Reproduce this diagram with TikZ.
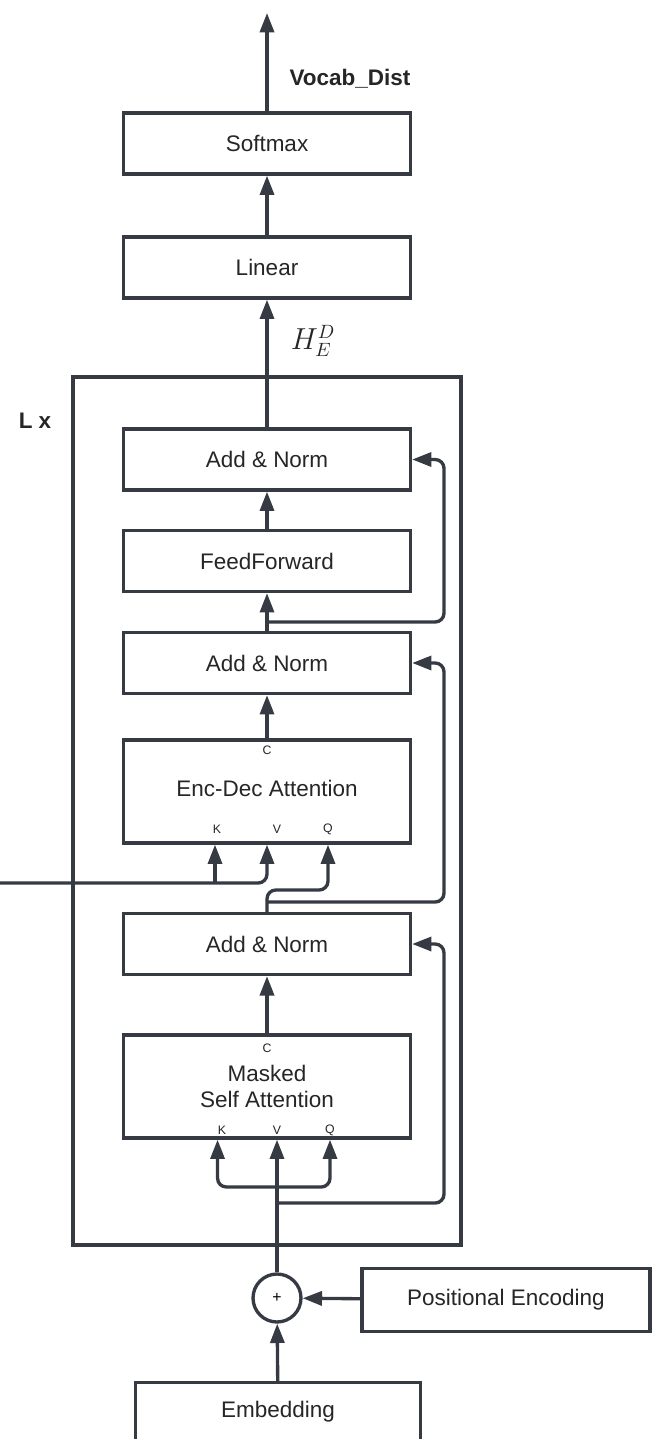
\documentclass[tikz,border=0pt]{standalone}
\usepackage{fontspec}
\setmainfont{Liberation Sans}
\usepackage{xcolor}
\usepackage{tikz}
\usetikzlibrary{arrows.meta,positioning,calc}

\definecolor{ink}{HTML}{363B43}
\definecolor{txt}{HTML}{262626}

\begin{document}
\begin{tikzpicture}[
  x=0.02cm,y=-0.02cm,>={Triangle[length=11pt,width=8pt]},
  flow/.style={->,line width=1.9pt,draw=ink,rounded corners=5pt},
  layer/.style={draw=ink,line width=1.9pt,fill=white,minimum width=5.74cm,
    minimum height=1.22cm,text=txt,inner sep=0pt},
  attn/.style={layer,minimum height=2.06cm,align=center},
  port/.style={font=\fontsize{7}{8}\selectfont,text=txt,inner sep=0pt},
  op/.style={draw=ink,circle,line width=1.9pt,minimum size=0.96cm,
    inner sep=0pt,fill=white},
  every node/.style={font=\fontsize{12.8}{15}\selectfont}
]
  \clip (0,0) rectangle (653,1439);

  % decoder stack
  \node[draw=ink,line width=1.9pt,minimum width=7.76cm,minimum height=17.36cm]
    (stack) at (267,811) {};
  \node[font=\fontsize{12.8}{15}\selectfont\bfseries,text=txt] (times) at (35,421) {L x};

  \node[layer] (softmax) at (267,143.5) {Softmax};
  \node[layer] (linear) at (267,267.5) {Linear};
  \node[layer] (addnormC) at (267,459.5) {Add \& Norm};
  \node[layer] (feedfwd) at (267,561) {FeedForward};
  \node[layer] (addnormB) at (267,663) {Add \& Norm};
  \node[attn] (encdec) at (267,791.5) {\raisebox{4pt}{Enc-Dec Attention}};
  \node[layer] (addnormA) at (267,944) {Add \& Norm};
  \node[attn] (masked) at (267,1086.5) {Masked\\Self Attention};
  \node[op] (plus) at (277,1298) {\fontsize{9}{10}\selectfont +};
  \node[layer,minimum width=5.76cm,minimum height=1.26cm] (posenc) at (506,1300)
    {Positional Encoding};
  \node[layer,minimum width=5.70cm,minimum height=1.30cm] (embed) at (278,1415)
    {\raisebox{6pt}{Embedding}};

  % port letters
  \node[port] (cEnc) at (267,750) {C};
  \node[port] (kEnc) at (217,829) {K};
  \node[port] (vEnc) at (277,829) {V};
  \node[port] (qEnc) at (328,829) {Q};
  \node[port] (cSelf) at (267,1048) {C};
  \node[port] (kSelf) at (222,1130) {K};
  \node[port] (vSelf) at (277,1130) {V};
  \node[port] (qSelf) at (330,1130) {Q};

  \node[font=\fontsize{12.8}{15}\selectfont\bfseries,text=txt] (vocab) at (350,79)
    {Vocab\_Dist};
  \node[font=\fontsize{16}{19}\selectfont,text=txt] (hidden) at (313,341) {$H_E^D$};

  \coordinate (out) at (267,13);
  \coordinate (encout) at (0,883);
  \coordinate (kIn) at (215,883);
  \coordinate (qIn) at (328,890);
  \coordinate (splitC) at (267,622);
  \coordinate (railC) at (444,459.5);
  \coordinate (splitB) at (267,902);
  \coordinate (railB) at (444,663);
  \coordinate (splitA) at (277,1203);
  \coordinate (railA) at (444,944);
  \coordinate (splitKQ) at (277,1187);

  \draw[flow] (softmax) -- (out);
  \draw[flow] (linear) -- (softmax);
  \draw[flow] (addnormC) -- (linear);
  \draw[flow] (feedfwd) -- (addnormC);
  \draw[flow] (addnormB) -- (feedfwd);
  \draw[flow] (splitC) -| (railC) -- (addnormC.east);
  \draw[flow] (encdec) -- (addnormB);
  \draw[flow] (encout) -| (encdec.south);
  \draw[flow] (kIn) -- (kIn |- encdec.south);
  \draw[flow] (addnormA.north) |- (qIn) -- (qIn |- encdec.south);
  \draw[flow] (splitB) -| (railB) -- (addnormB.east);
  \draw[flow] (masked) -- (addnormA);
  \draw[flow] (splitA) -| (railA) -- (addnormA.east);
  \draw[flow] (plus.north) -- (plus.north |- masked.south);
  \draw[flow] (splitKQ) -| (kSelf.west |- masked.south);
  \draw[flow] (splitKQ) -| (qSelf |- masked.south);
  \draw[flow] (posenc) -- (plus);
  \draw[flow] (embed) -- (plus);
\end{tikzpicture}
\end{document}
